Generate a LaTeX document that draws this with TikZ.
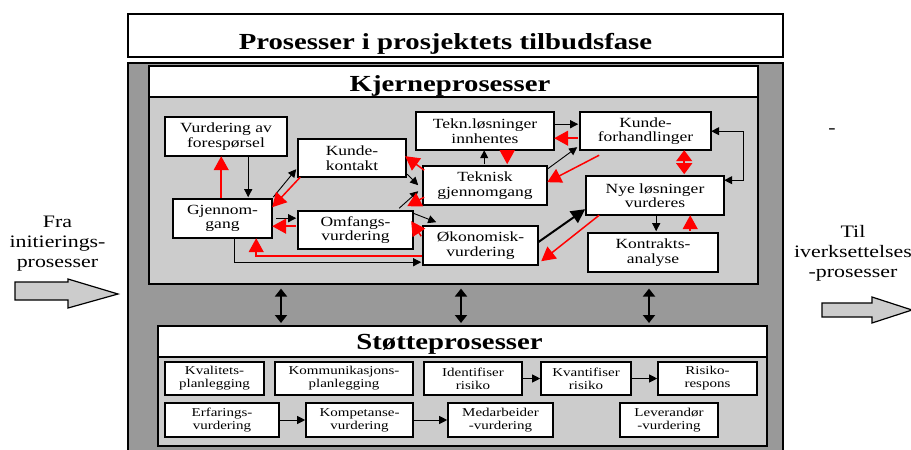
\documentclass[tikz,border=0pt]{standalone}
\usepackage{fontspec}
\setmainfont{Liberation Serif}[FakeStretch=1.25]
\usetikzlibrary{arrows.meta}
\definecolor{panelgray}{RGB}{153,153,153}
\definecolor{lightpanel}{RGB}{204,204,204}
\begin{document}
\begin{tikzpicture}[x=1pt,y=-1pt,
  frame/.style={draw=black, line width=1.6pt, inner sep=0pt},
  box/.style={draw=black, line width=1.6pt, fill=white, align=center, inner sep=1pt,
    font=\fontsize{14}{14.5}\selectfont},
  sbox/.style={box, font=\fontsize{12}{13}\selectfont},
  headtext/.style={anchor=base, font=\fontsize{23}{26}\bfseries\selectfont},
  sidetext/.style={align=center, font=\fontsize{17.5}{20}\selectfont},
  blk/.style={draw=black, line width=0.9pt, -{Triangle[length=8pt,width=8pt]}},
  blkboth/.style={draw=black, line width=0.9pt, {Triangle[length=8pt,width=8pt]}-{Triangle[length=8pt,width=8pt]}},
  thick arrow/.style={draw=black, line width=2pt, -{Triangle[length=14pt,width=14pt]}},
  rd/.style={draw=red, line width=1.5pt, -{Triangle[length=14pt,width=15pt]}},
  rdboth/.style={draw=red, line width=1.5pt, {Triangle[length=11pt,width=16pt]}-{Triangle[length=11pt,width=16pt]}},
  link/.style={draw=black, line width=2pt, {Triangle[length=8pt,width=12pt]}-{Triangle[length=8pt,width=12pt]}},
  blockarrow/.style={draw=black, line width=1.2pt, fill=lightpanel, line join=miter}
]
\useasboundingbox (0,0) rectangle (911,450);

% ---- frames ----
\node[frame, fill=white, minimum width=655pt, minimum height=43pt, anchor=north west] (title) at (127,13) {};
\node[headtext] (titletext) at (445.5,49) {Prosesser i prosjektets tilbudsfase};

\node[frame, fill=panelgray, minimum width=655pt, minimum height=400pt, anchor=north west] (outer) at (127,62) {};

% core processes panel
\node[frame, fill=lightpanel, minimum width=609pt, minimum height=218pt, anchor=north west] (kb) at (148,65) {};
\node[frame, fill=white, minimum width=609pt, minimum height=31pt, anchor=north west] (kh) at (148,65) {};
\node[headtext] (khtext) at (450,91) {Kjerneprosesser};

% support processes panel
\node[frame, fill=lightpanel, minimum width=609pt, minimum height=120pt, anchor=north west] (sb) at (157,325) {};
\node[frame, fill=white, minimum width=609pt, minimum height=31pt, anchor=north west] (sh) at (157,325) {};
\node[headtext] (shtext) at (449.5,349) {Støtteprosesser};

% ---- core process boxes ----
\node[box, minimum width=122pt, minimum height=39pt] (vur) at (226,136.5) {Vurdering av\\forespørsel};
\node[box, minimum width=108pt, minimum height=38pt] (kk)  at (352,158)   {Kunde-\\kontakt};
\node[box, minimum width=99pt,  minimum height=39pt] (gj)  at (222.5,218.5) {Gjennom-\\gang};
\node[box, minimum width=115pt, minimum height=38pt] (omf) at (355.5,230) {Omfangs-\\vurdering};
\node[box, minimum width=138pt, minimum height=38pt] (tl)  at (485,131)   {Tekn.løsninger\\innhentes};
\node[box, minimum width=131pt, minimum height=38pt] (kf)  at (645.5,131) {Kunde-\\forhandlinger};
\node[box, minimum width=124pt, minimum height=39pt] (tg)  at (485,185.5) {Teknisk\\gjennomgang};
\node[box, minimum width=138pt, minimum height=39pt] (nye) at (655,195.5) {Nye løsninger\\vurderes};
\node[box, minimum width=115pt, minimum height=39pt] (oko) at (480.5,245.5) {Økonomisk-\\vurdering};
\node[box, minimum width=130pt, minimum height=39pt] (ka)  at (653,252.5) {Kontrakts-\\analyse};

% ---- support process boxes ----
\node[sbox, minimum width=99pt,  minimum height=33pt] (kval)  at (214.5,378.5) {Kvalitets-\\planlegging};
\node[sbox, minimum width=138pt, minimum height=33pt] (komm)  at (344,378.5)   {Kommunikasjons-\\planlegging};
\node[sbox, minimum width=98pt,  minimum height=33pt] (ident) at (473,378.5)   {Identifiser\\risiko};
\node[sbox, minimum width=90pt,  minimum height=33pt] (kvant) at (586,378.5)   {Kvantifiser\\risiko};
\node[sbox, minimum width=99pt,  minimum height=33pt] (risk)  at (707.5,378.5) {Risiko-\\respons};
\node[sbox, minimum width=114pt, minimum height=34pt] (erf)   at (222,420)     {Erfarings-\\vurdering};
\node[sbox, minimum width=107pt, minimum height=34pt] (komp)  at (359.5,420)   {Kompetanse-\\vurdering};
\node[sbox, minimum width=105pt, minimum height=34pt] (med)   at (500.5,420)   {Medarbeider\\-vurdering};
\node[sbox, minimum width=98pt,  minimum height=34pt] (lev)   at (669,420)     {Leverandør\\-vurdering};

% ---- core connectors ----
\draw[rd]  ([shift={(49,0)}]gj.north west) -- ([shift={(57,40)}]vur.north west);
\draw[blk] ([shift={(84,40)}]vur.north west) -- ([shift={(76,-1)}]gj.north west);
\draw[blk] ([shift={(101,-1)}]gj.north west) -- ([shift={(-1,31)}]kk.north west);
\draw[rd]  ([shift={(3,39)}]kk.north west) -- ([shift={(100,9)}]gj.north west);
\draw[blk] ([shift={(104,20)}]gj.north west) -- ([shift={(-1,8)}]omf.north west);
\draw[rd]  ([shift={(-1,16)}]omf.north west) -- ([shift={(100,28)}]gj.north west);
\draw[rd]  ([shift={(0,31)}]oko.north west) -| ([shift={(84,40)}]gj.north west);
\draw[blk] ([shift={(62,40)}]gj.north west) |- ([shift={(-1,37)}]oko.north west);

\draw[blk] ([shift={(110,36)}]kk.north west) -- ([shift={(-4,20)}]tg.north west);
\draw[rd]  ([shift={(2,5)}]tg.north west) -- ([shift={(108,18)}]kk.north west);
\draw[blk] ([shift={(102,-2)}]omf.north west) -- ([shift={(-4,26)}]tg.north west);
\draw[rd]  ([shift={(2,32)}]tg.north west) -- ([shift={(110,-4)}]omf.north west);
\draw[blk] ([shift={(116,3)}]omf.north west) -- ([shift={(14,-3)}]oko.north west);
\draw[rd]  ([shift={(-1,11)}]oko.north west) -- ([shift={(114,11)}]omf.north west);

\draw[blk] ([shift={(62,-1)}]tg.north west) -- ([shift={(69,39)}]tl.north west);
\draw[rd]  ([shift={(92,39)}]tl.north west) -- ([shift={(85,-1)}]tg.north west);
\draw[blk] ([shift={(139,13)}]tl.north west) -- ([shift={(-1,13)}]kf.north west);
\draw[rd]  ([shift={(-1,27)}]kf.north west) -- ([shift={(139,27)}]tl.north west);
\draw[blk] ([shift={(125,4)}]tg.north west) -- ([shift={(-2,36)}]kf.north west);
\draw[rd]  ([shift={(20,44)}]kf.north west) -- ([shift={(125,17)}]tg.north west);

\draw[thick arrow] ([shift={(116,17)}]oko.north west) -- ([shift={(0,34)}]nye.north west);
\draw[rd]  ([shift={(14,40)}]nye.north west) -- ([shift={(119,36)}]oko.north west);
\draw[rdboth] ([shift={(105,39)}]kf.north west) -- ([shift={(99,-1)}]nye.north west);
\draw[blk] ([shift={(71,40)}]nye.north west) -- ([shift={(69,-1)}]ka.north west);
\draw[rd]  ([shift={(103,-1)}]ka.north west) -- ([shift={(105,40)}]nye.north west);
\draw[blkboth] ([shift={(132,20)}]kf.north west) -- ++(32,0) |- ([shift={(139,5)}]nye.north west);

% ---- support connectors ----
\draw[blk] (ident.east) -- (kvant.west);
\draw[blk] (kvant.east) -- (risk.west);
\draw[blk] (erf.east) -- (komp.west);
\draw[blk] (komp.east) -- (med.west);

% ---- links between core and support panels ----
\draw[link] ([shift={(133,4)}]kb.south west) -- ([shift={(124,-2)}]sb.north west);
\draw[link] ([shift={(313,4)}]kb.south west) -- ([shift={(304,-2)}]sb.north west);
\draw[link] ([shift={(501,4)}]kb.south west) -- ([shift={(492,-2)}]sb.north west);

% ---- incoming and outgoing processes ----
\node[sidetext] (from) at (57.5,244) {Fra\\initierings-\\prosesser};
\draw[blockarrow] (15,282) -- (68,282) -- (68,279) -- (118,294) -- (68,308) -- (68,300) -- (15,300) -- cycle;

\node[sidetext] (to) at (853,253.5) {Til\\iverksettelses\\-prosesser};
\node[font=\fontsize{17.5}{20}\selectfont] (dash) at (832,131) {-};
\draw[blockarrow] (822,303) -- (872,303) -- (872,297) -- (912,310) -- (872,323) -- (872,317) -- (822,317) -- cycle;
\end{tikzpicture}
\end{document}
